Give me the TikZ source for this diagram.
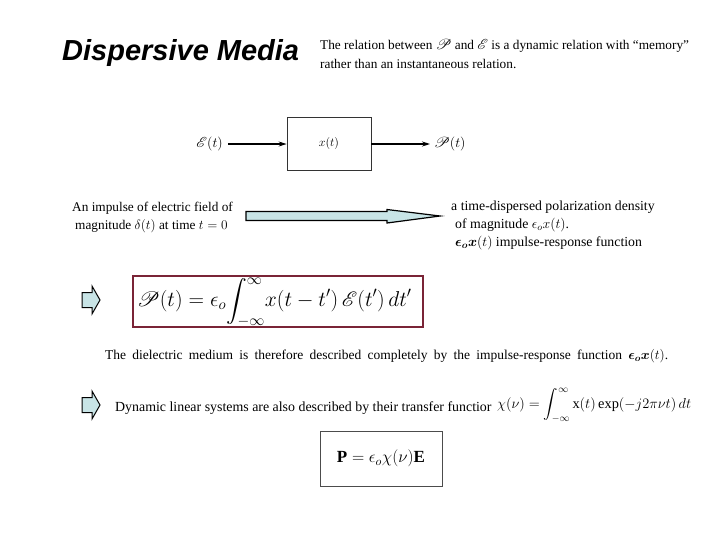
\RequirePackage{fix-cm}
\documentclass[tikz,border=0pt]{standalone}
\usetikzlibrary{arrows.meta}
\usepackage{amsmath}
\usepackage{mathrsfs}
\usepackage{fontspec}
\setmainfont{Liberation Serif}
\newfontfamily\titlefont{Liberation Sans}
\definecolor{arrowfill}{HTML}{C8E4E6}
\definecolor{eqframe}{HTML}{7A2436}
\tikzset{
  txt/.style={inner sep=0pt, anchor=west, font=\fontsize{13.3}{15}\selectfont},
  blockarrow/.style={draw=black, line width=1pt, fill=arrowfill},
  sysbox/.style={draw=black!80, line width=0.8pt},
  sig/.style={-{Stealth[length=8pt,width=5pt]}, line width=1.1pt},
  siglabel/.style={inner sep=0pt, font=\fontsize{14}{16}\selectfont}
}
\begin{document}
\begin{tikzpicture}[x=1pt,y=-1pt]
\useasboundingbox (0,0) rectangle (719,539);
% title
\node[inner sep=0pt, anchor=west, font=\titlefont\bfseries\itshape\fontsize{29}{32}\selectfont] (title) at (62,53) {Dispersive Media};
\node[txt] (intro1) at (320,46) {The relation between $\mathscr{P}$ and $\mathscr{E}$ is a dynamic relation with ``memory''};
\node[txt] (intro2) at (320,64) {rather than an instantaneous relation.};
% block diagram
\node[sysbox, minimum width=84pt, minimum height=53pt, font=\fontsize{12}{14}\selectfont] (sys) at (329,143.5) {$x(t)$};
\node[siglabel, anchor=east] (Ein) at (223,144) {$\mathscr{E}(t)$};
\node[siglabel, anchor=west] (Pout) at (434,144) {$\mathscr{P}(t)$};
\draw[sig] (Ein.east) ++(5,0) coordinate (ein0) -- (sys.west |- ein0);
\draw[sig] (sys.east |- Pout.west) -- ([xshift=-4pt]Pout.west);
% impulse texts
\node[txt] (imp1) at (72,208) {An impulse of electric field of};
\node[txt] (imp2) at (75,226) {magnitude $\delta(t)$ at time $t=0$};
\node[txt, font=\fontsize{13.8}{16}\selectfont] (resp1) at (451,207) {a time-dispersed polarization density};
\node[txt, font=\fontsize{13.8}{16}\selectfont] (resp2) at (455,225) {of magnitude $\epsilon_o x(t)$.};
\node[txt, font=\fontsize{13.8}{16}\selectfont] (resp3) at (455,243) {$\boldsymbol{\epsilon_o x}(t)$ impulse-response function};
\coordinate (bigA) at (246,216);
\coordinate (bigB) at (440,216);
\draw[blockarrow, line width=1.2pt] (bigA) ++(0,-4.5) -- ++(141,0) -- ++(0,-2) -- (bigB) -- ++(-53,7) -- ++(0,-2.5) -- ++(-141,0) -- cycle;
% convolution equation
\node[draw=eqframe, line width=1.5pt, minimum width=290pt, minimum height=51pt, inner sep=0pt] (conv) at (278,301.5) {};
\node[inner sep=0pt, anchor=west, font=\fontsize{21.5}{24}\selectfont] (conveq) at (137,302)
  {$\mathscr{P}(t)=\epsilon_o\!\displaystyle\int_{-\infty}^{\infty}\!x(t-t')\,\mathscr{E}(t')\,dt'$};
\coordinate (arr1) at (82,300);
\draw[blockarrow] (arr1) ++(0,-7.5) -- ++(10,0) -- ++(0,-6.5) -- ++(8,14) -- ++(-8,14) -- ++(0,-6.5) -- ++(-10,0) -- cycle;
% dielectric statement
\node[inner sep=0pt, anchor=west, font=\fontsize{13.5}{15}\selectfont] (diel) at (105,356)
  {\makebox[563pt][s]{The dielectric medium is therefore described completely by the impulse-response function $\boldsymbol{\epsilon_o x}(t)$.}};
% transfer function
\coordinate (arr2) at (82,405);
\draw[blockarrow] (arr2) ++(0,-7.5) -- ++(10,0) -- ++(0,-6.5) -- ++(8,14) -- ++(-8,14) -- ++(0,-6.5) -- ++(-10,0) -- cycle;
\node[inner sep=0pt, anchor=west, font=\fontsize{13.9}{16}\selectfont] (dyn) at (115,408) {Dynamic linear systems are also described by their transfer functior};
\node[inner sep=0pt, anchor=west, font=\fontsize{14.4}{17}\selectfont] (chi) at (497,405)
  {$\chi(\nu)=\displaystyle\int_{-\infty}^{\infty}\mathrm{x}(t)\exp(-j2\pi\nu t)\,dt$};
\node[draw=black!70, line width=0.8pt, minimum width=122pt, minimum height=55pt, font=\fontsize{17}{20}\selectfont] (peq) at (381,458.5)
  {$\mathbf{P}=\epsilon_o\chi(\nu)\mathbf{E}$};
\end{tikzpicture}
\end{document}
